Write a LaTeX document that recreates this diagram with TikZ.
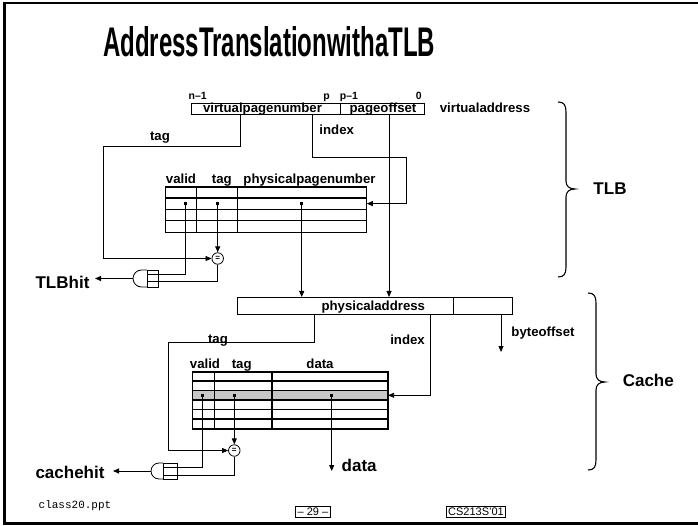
\documentclass[tikz,border=0pt]{standalone}
\usepackage{fontspec}
\setmainfont{Liberation Sans}
\setmonofont{Liberation Mono}
\usetikzlibrary{arrows.meta}
\begin{document}
\begin{tikzpicture}[x=1pt,y=-1pt,
  wire/.style={line width=0.8pt},
  arr/.style={wire,-{Triangle[length=6pt,width=5pt]}},
  lbl/.style={font=\fontsize{13.2}{15}\selectfont\bfseries, inner sep=0pt, anchor=base},
  big/.style={font=\fontsize{17}{19}\selectfont\bfseries, inner sep=0pt, anchor=base},
  num/.style={font=\fontsize{10.5}{12}\selectfont\bfseries, inner sep=0pt, anchor=base},
  foot/.style={font=\fontsize{11}{13}\selectfont, inner sep=0pt, anchor=base},
  dotm/.style={fill, rectangle, minimum size=2.8pt, inner sep=0pt},
  eqc/.style={draw, circle, line width=0.8pt, minimum size=11.5pt, inner sep=0pt, fill=white,
    font=\fontsize{8}{8}\selectfont\bfseries},
  tbl/.style={draw, line width=0.8pt, anchor=north west, inner sep=0pt},
  sep/.style={line width=1.5pt},
  fbox/.style={draw, line width=0.8pt, inner sep=0pt, anchor=north west},
  brace/.style={line width=1.1pt}
]
\useasboundingbox (0,0) rectangle (698,526);
\fill[white] (0,0) rectangle (698,526);

% slide frame
\draw[line width=2.4pt] (698,3) -- (4.5,3) -- (4.5,523.5) -- (698,523.5);

% title
\node[inner sep=0pt, anchor=base west] (title) at (103,57)
  {\resizebox{332pt}{30pt}{\bfseries AddressTranslationwithaTLB}};

% ---------- virtual address ----------
\node[fbox, minimum width=233pt, minimum height=11.3pt] (va) at (191,102.7) {};
\draw[wire] (340,102.7) -- (340,114);
\node[num] (nm1) at (197.7,99.3) {n–1};
\node[num] (bp) at (326.7,99.3) {p};
\node[num] (pm1) at (349,99.3) {p–1};
\node[num] (b0) at (418.7,99.3) {0};
\node[lbl] (vpn) at (262.5,112.3) {virtualpagenumber};
\node[lbl] (poff) at (383,112.3) {pageoffset};
\node[lbl] (vaddr) at (485,112.3) {virtualaddress};
\node[lbl] (tagA) at (160,141) {tag};
\node[lbl] (idxA) at (336.7,134.3) {index};

\coordinate (vaTag) at (240,114);
\coordinate (vaIdx) at (312.3,114);
\coordinate (vaOff) at (389,114);

% ---------- TLB ----------
\node[tbl, minimum width=201pt, minimum height=45.3pt] (tlb) at (165,186.7) {};
\foreach \y in {198,209.3,220.7} \draw[sep] (165,\y) -- (366,\y);
\foreach \x in {196.7,237.3} \draw[sep] (\x,186.7) -- (\x,232);
\draw[wire] (tlb.north west) rectangle (tlb.south east);
\node[lbl] (hV1) at (181,183.5) {valid};
\node[lbl] (hT1) at (221.8,183.5) {tag};
\node[lbl] (hP1) at (309.5,183.5) {physicalpagenumber};

\node[dotm] (tV) at (185.3,203.6) {};
\node[dotm] (tT) at (217.7,203.6) {};
\node[dotm] (tP) at (301.7,203.6) {};

\node[eqc] (eqT) at (217.7,258.5) {=};

% TLB hit gate
\draw[wire, fill=white] (147,270) -- (141.5,270) arc[start angle=270, end angle=90, radius=8.5] -- (147,287);
\draw[wire] (147,270) rectangle (158,287);
\coordinate (gT1) at (147,274.3);
\coordinate (gT2) at (147,281.7);
\coordinate (gTo) at (133,278.5);
\coordinate (hitT) at (95,278.5);
\node[big] (tlbhit) at (62.5,288.3) {TLBhit};

% TLB wiring
\draw[wire] (vaTag) |- (103,146.8) -- (103,258.5);
\draw[arr] (103,258.5) -- (eqT.west);
\draw[wire] (vaIdx) |- (406,157.3) -- (406,203.6);
\draw[arr] (406,203.6) -- (tlb.east |- tV);
\draw[arr] (tT.center) -- (eqT.north);
\draw[wire] (tV.center) |- (gT1);
\draw[wire] (eqT.south) |- (gT2);
\draw[arr] (gTo) -- (hitT);

% ---------- physical address ----------
\node[fbox, minimum width=274.7pt, minimum height=17pt] (pa) at (237,297) {};
\draw[wire] (453,297) -- (453,314);
\node[lbl] (paddr) at (373.3,310.7) {physicaladdress};
\draw[arr] (tP.center) -- (tP |- pa.north);
\draw[arr] (vaOff) -- (vaOff |- pa.north);

\coordinate (paTag) at (314.3,314);
\coordinate (paIdx) at (430.7,314);
\coordinate (paOff) at (501,314);
\coordinate (offEnd) at (501,352);
\node[lbl] (tagB) at (218,343) {tag};
\node[lbl] (idxB) at (407.5,344) {index};
\node[lbl] (boff) at (543,336.7) {byteoffset};

% ---------- cache ----------
\fill[black!22] (192.3,390.5) rectangle (387.3,400);
\node[tbl, minimum width=195pt, minimum height=56.6pt] (cache) at (192.3,371.7) {};
\foreach \y in {381,390.5,400,409.5,419} \draw[sep] (192.3,\y) -- (387.3,\y);
\foreach \x in {214.3,272} \draw[sep] (\x,371.7) -- (\x,428.3);
\draw[wire] (cache.north west) rectangle (cache.south east);
\node[lbl] (hV2) at (205,368.3) {valid};
\node[lbl] (hT2) at (241.7,368.3) {tag};
\node[lbl] (hD2) at (320,368.3) {data};

\node[dotm] (cV) at (202.7,395.3) {};
\node[dotm] (cT) at (234.3,395.3) {};
\node[dotm] (cD) at (331.7,395.3) {};

\node[eqc] (eqC) at (234.3,450.5) {=};

% cache hit gate
\draw[wire, fill=white] (163,463) -- (159,463) arc[start angle=270, end angle=90, radius=8] -- (163,479);
\draw[wire] (163,463) rectangle (177,479);
\coordinate (gC1) at (163,467.3);
\coordinate (gC2) at (163,475.7);
\coordinate (gCo) at (151,471);
\coordinate (hitC) at (113,471);
\node[big] (cachehit) at (70,478.3) {cachehit};
\coordinate (dataEnd) at (331.7,471);
\node[big] (dataout) at (359.2,471.7) {data};

% cache wiring
\draw[wire] (paTag) |- (168,342.3) -- (168,450.5);
\draw[arr] (168,450.5) -- (eqC.west);
\draw[wire] (paIdx) -- (430.7,395.3);
\draw[arr] (430.7,395.3) -- (cache.east |- cD);
\draw[arr] (paOff) -- (offEnd);
\draw[arr] (cT.center) -- (eqC.north);
\draw[wire] (cV.center) |- (gC1);
\draw[wire] (eqC.south) |- (gC2);
\draw[arr] (gCo) -- (hitC);
\draw[arr] (cD.center) -- (dataEnd);

% ---------- braces ----------
\draw[brace] (558,102) .. controls (564,102) and (566,105) .. (566,112) -- (566,181)
  .. controls (566,186) and (569,189) .. (575,189)
  .. controls (569,189) and (566,192) .. (566,197) -- (566,267)
  .. controls (566,274) and (564,277) .. (558,277);
\node[big] (tlbL) at (610,195) {TLB};
\draw[brace] (588,293) .. controls (594,293) and (596,296) .. (596,303) -- (596,374)
  .. controls (596,379) and (599,382) .. (605,382)
  .. controls (599,382) and (596,385) .. (596,390) -- (596,460)
  .. controls (596,467) and (594,470) .. (588,470);
\node[big] (cacheL) at (648.3,386.7) {Cache};

% ---------- footer ----------
\node[foot, font=\fontsize{11}{13}\selectfont\ttfamily] (cls) at (75,508) {class20.ppt};
\node[draw, line width=0.8pt, inner sep=2pt, font=\fontsize{11}{13}\selectfont] (pg) at (313,512) {– 29 –};
\node[draw, line width=0.8pt, inner sep=2pt, font=\fontsize{11}{13}\selectfont] (crs) at (476,512) {CS213S'01};
\end{tikzpicture}
\end{document}
